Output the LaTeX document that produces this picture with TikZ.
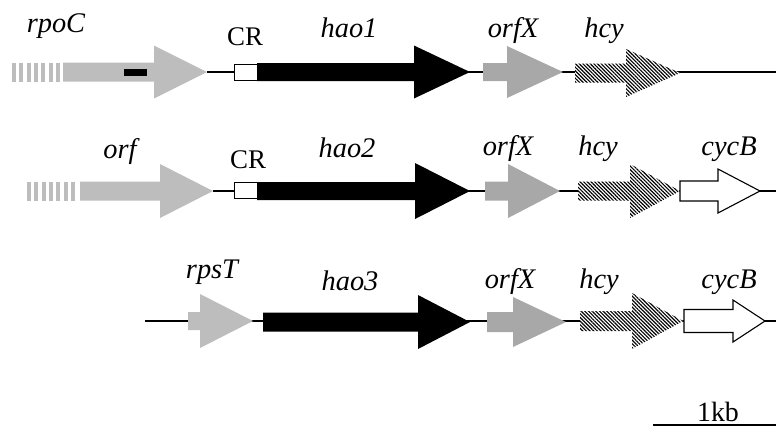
\documentclass[tikz,border=0pt]{standalone}
\usepackage{fontspec}
\setmainfont{Liberation Serif}
\usetikzlibrary{patterns.meta}
\newcommand{\gene}[7]{\path[#7] (#1,#4-#5) -- (#2,#4-#5) -- (#2,#4-#6) -- (#3,#4) -- (#2,#4+#6) -- (#2,#4+#5) -- (#1,#4+#5) -- cycle;}
\tikzset{
  stipA/.style={fill=gray!52},
  stipB/.style={fill=gray!68},
  hatch/.style={fill=white,postaction={pattern={Lines[angle=-45,distance=2.6pt,line width=1.15pt]}}},
  haofill/.style={fill=black},
  openarrow/.style={fill=white,draw=black,line width=1.1bp,line join=miter},
  crbox/.style={fill=white,draw=black,line width=1bp},
  backbone/.style={line width=1.6bp},
  glabel/.style={font=\fontsize{28.5}{30}\selectfont\itshape,anchor=base,inner sep=0pt},
  rlabel/.style={font=\fontsize{27}{30}\selectfont,anchor=base,inner sep=0pt},
}
\begin{document}
\begin{tikzpicture}[x=1bp,y=-1bp]
\useasboundingbox (0,0) rectangle (776,426);
% ---------- row 1 ----------
\coordinate (r1s) at (207,72);
\coordinate (r1e) at (776,72);
\draw[backbone] (r1s) -- (r1e);
\foreach \i in {0,...,6} \fill[stipA] (12+\i*7.3,62.5) rectangle ++(4,19);
\gene{63}{154}{207}{72}{9.5}{26.5}{stipA}
\fill[black] (124,69) rectangle (147,76);
\draw[crbox] (234,64) rectangle (257,80);
\gene{257}{414}{470}{72}{9}{26.5}{haofill}
\gene{483}{507}{563}{72}{9}{26}{stipB}
\gene{575}{626}{680}{73}{9.5}{24}{hatch}
\node[glabel] (rpoC) at (56,32) {rpoC};
\node[rlabel] (cr1) at (245,45) {CR};
\node[glabel] (hao1) at (349,37) {hao1};
\node[glabel] (orfX1) at (513,37) {orfX};
\node[glabel] (hcy1) at (604,37) {hcy};
% ---------- row 2 ----------
\coordinate (r2s) at (213,191);
\coordinate (r2e) at (776,191);
\draw[backbone] (r2s) -- (r2e);
\foreach \i in {0,...,6} \fill[stipA] (27+\i*7.3,181.5) rectangle ++(4,19);
\gene{80}{160}{213}{191}{9.5}{27}{stipA}
\draw[crbox] (234,182) rectangle (257,198);
\gene{257}{415}{470}{191}{9}{28}{haofill}
\gene{485}{508}{560}{191}{9.5}{27}{stipB}
\gene{578}{630}{680}{191}{9.5}{27}{hatch}
\gene{680}{718}{760}{191}{10}{22}{openarrow}
\node[glabel] (orf) at (120,158) {orf};
\node[rlabel] (cr2) at (248,168) {CR};
\node[glabel] (hao2) at (347,157) {hao2};
\node[glabel] (orfX2) at (508,155) {orfX};
\node[glabel] (hcy2) at (598,155) {hcy};
\node[glabel] (cycB2) at (729,155) {cycB};
% ---------- row 3 ----------
\coordinate (r3s) at (145,321);
\coordinate (r3e) at (776,321);
\draw[backbone] (r3s) -- (r3e);
\gene{188}{200}{253}{321}{9}{27}{stipA}
\gene{263}{418}{470}{322}{9.5}{27}{haofill}
\gene{487}{513}{566}{322}{10}{25}{stipB}
\gene{580}{632}{683}{321}{10}{28}{hatch}
\gene{684}{733}{765}{321}{11.5}{21}{openarrow}
\node[glabel] (rpsT) at (212,278) {rpsT};
\node[glabel] (hao3) at (350,290) {hao3};
\node[glabel] (orfX3) at (510,288) {orfX};
\node[glabel] (hcy3) at (599,288) {hcy};
\node[glabel] (cycB3) at (729,288) {cycB};
% ---------- scale bar ----------
\coordinate (sb1) at (653,425);
\coordinate (sb2) at (776,425);
\draw[line width=1.2bp] (sb1) -- (sb2);
\node[rlabel,font=\fontsize{28}{30}\selectfont] (kb) at (718,421) {1kb};
\end{tikzpicture}
\end{document}
